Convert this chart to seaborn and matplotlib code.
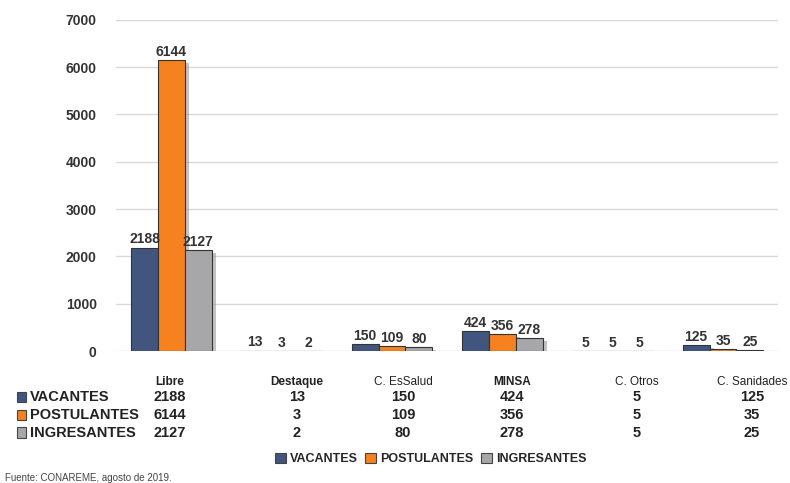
import matplotlib
matplotlib.use("Agg")
import matplotlib.pyplot as plt
import matplotlib.patheffects as pe
from matplotlib.patches import Rectangle
import seaborn as sns
import pandas as pd

# datos del grafico
categorias = ["Libre", "Destaque", "C. EsSalud", "MINSA", "C. Otros", "C. Sanidades"]
series = ["VACANTES", "POSTULANTES", "INGRESANTES"]
vacantes = [2188, 13, 150, 424, 5, 125]
postulantes = [6144, 3, 109, 356, 5, 35]
ingresantes = [2127, 2, 80, 278, 5, 25]
colores = ["#41557f", "#f5821f", "#a7a7aa"]

valores = {"VACANTES": vacantes, "POSTULANTES": postulantes, "INGRESANTES": ingresantes}
df = pd.DataFrame([
    {"categoria": c, "serie": s, "valor": valores[s][i]}
    for s in series for i, c in enumerate(categorias)
])

sns.set_style("white")
plt.rcParams["font.family"] = ["Liberation Sans", "DejaVu Sans"]
narrow = ["Liberation Sans Narrow", "Liberation Sans", "DejaVu Sans"]

fig = plt.figure(figsize=(7.9, 4.83), dpi=100)
ax = fig.add_axes([0.147, 0.273, 0.838, 0.686])

sns.barplot(data=df, x="categoria", y="valor", hue="serie", order=categorias,
            hue_order=series, palette=colores, width=0.73, edgecolor="#333333",
            linewidth=0.8, saturation=1, ax=ax, legend=False)

sombra = [pe.SimplePatchShadow(offset=(3, -2), shadow_rgbFace="#888888", alpha=0.5), pe.Normal()]
for cont in ax.containers:
    for bar in cont:
        bar.set_path_effects(sombra)
    ax.bar_label(cont, fmt="%d", padding=1, fontsize=10, fontweight="bold", color="#333333")

ax.set_ylim(0, 7000)
ax.set_yticks(range(0, 7001, 1000))
ax.yaxis.grid(True, color="#d9d9d9", linewidth=1)
ax.set_axisbelow(True)
ax.tick_params(axis="y", length=0, pad=14, labelsize=10)
for t in ax.get_yticklabels():
    t.set_fontweight("bold")
    t.set_color("#333333")
ax.set_xticks([])
ax.set_xlabel("")
ax.set_ylabel("")
sns.despine(ax=ax, left=True, bottom=True)

# tabla de datos debajo
col_x = [0.215, 0.376, 0.51, 0.648, 0.806, 0.952]
fila_y = [0.178, 0.141, 0.104]
for j, c in enumerate(categorias):
    fig.text(col_x[j], 0.209, c, ha="center", va="center", fontsize=8.5,
             fontweight="bold" if j in (0, 1, 3) else "normal", family=narrow, color="#222222")
for i, s in enumerate(series):
    fig.patches.append(Rectangle((0.021, fila_y[i] - 0.011), 0.012, 0.022, transform=fig.transFigure,
                                 facecolor=colores[i], edgecolor="#444444", linewidth=0.8))
    fig.text(0.038, fila_y[i], s, ha="left", va="center", fontsize=10.5, fontweight="bold",
             family=narrow, color="#222222")
    for j in range(len(categorias)):
        fig.text(col_x[j], fila_y[i], str(valores[s][j]), ha="center", va="center", fontsize=10.5,
                 fontweight="bold", family=narrow, color="#222222")

# leyenda
handles = [Rectangle((0, 0), 1, 1, facecolor=colores[i], edgecolor="#444444", linewidth=0.8)
           for i in range(3)]
fig.legend(handles, series, loc="center", bbox_to_anchor=(0.545, 0.05), ncol=3, frameon=False,
           prop={"family": narrow, "weight": "bold", "size": 9}, handlelength=0.9, handleheight=0.9,
           handletextpad=0.3, columnspacing=0.6)

fig.text(0.006, 0.0, "Fuente: CONAREME, agosto de 2019.", fontsize=7, color="#444444",
         ha="left", va="bottom")

fig.savefig("out.png", dpi=100)
